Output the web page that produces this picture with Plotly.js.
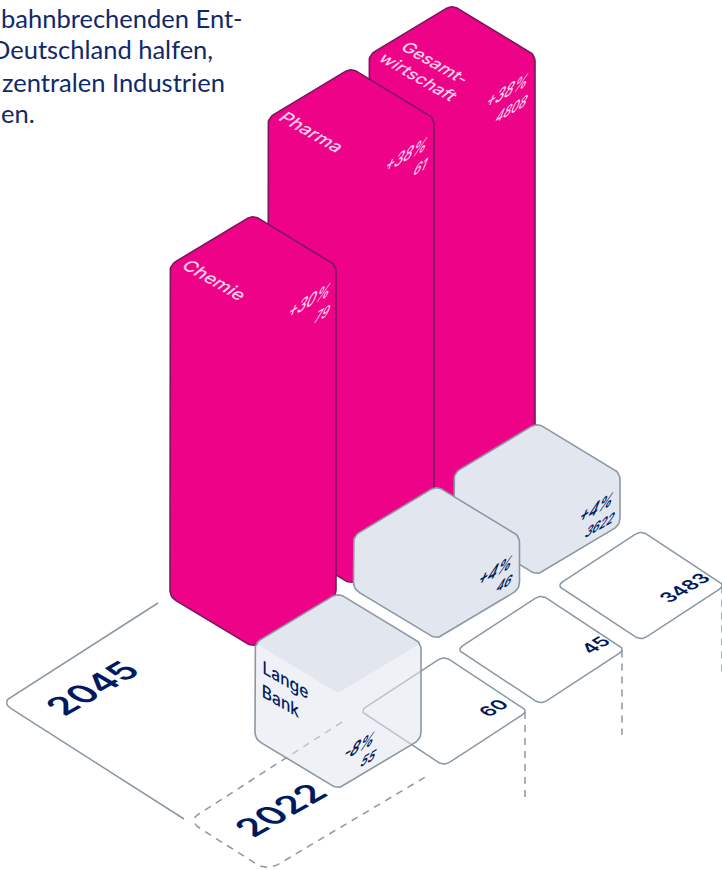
<!DOCTYPE html>
<html><head><meta charset="utf-8">
<script src="https://cdn.plot.ly/plotly-3.0.1.min.js"></script>
<style>html,body{margin:0;padding:0;background:#fff;overflow:hidden}#c{width:722px;height:870px}</style>
</head><body><div id="c"></div>
<script>
// --- data
const categories = ["Chemie","Pharma","Gesamt-<br>wirtschaft"];
const change2045 = ["+30%","+38%","+38%"];
const values2045 = [79,61,4808];
const heights2045 = [332,416,416];
const changeBank = ["-8%","+4%","+4%"];
const valuesBank = [55,46,3622];
const heightsBank = [96,53,52];
const values2022 = [60,45,3483];
const years = ["2045","2022"];
const bankLabel = ["Lange","Bank"];
const introLines = ["bahnbrechenden Ent-","Deutschland halfen,","zentralen Industrien","en."];

// --- layout of the isometric grid
const W = 83, D = 50, TW = 84, TD = 55;
const pinkCx = [253,351,452], pinkBottom = [647,584,521];
const bankCx = [338,436.5,537], bankBottom = [789,639,575];
const tileCx = [444,541,641], tileCy = [711,649.5,585.5], tileDrop = [797,735,672];
const PINK="#ee0288", EDGE="#7a1560", GREY="#8a98a3", TOP="#e1e6ef", NAVY="#001a5e", SOFT="#ffcfe8";

function rounded(pts,r,closed){
  const xs=[],ys=[],n=pts.length;
  for(let i=0;i<n;i++){
    const p=pts[i];
    if(!closed&&(i===0||i===n-1)){xs.push(p[0]);ys.push(p[1]);continue;}
    const a=pts[(i-1+n)%n],b=pts[(i+1)%n];
    const la=Math.hypot(a[0]-p[0],a[1]-p[1]),lb=Math.hypot(b[0]-p[0],b[1]-p[1]);
    const s=[p[0]+(a[0]-p[0])*r/la,p[1]+(a[1]-p[1])*r/la],e=[p[0]+(b[0]-p[0])*r/lb,p[1]+(b[1]-p[1])*r/lb];
    for(let k=0;k<=8;k++){const t=k/8,u=1-t;
      xs.push(u*u*s[0]+2*u*t*p[0]+t*t*e[0]);ys.push(u*u*s[1]+2*u*t*p[1]+t*t*e[1]);}
  }
  if(closed){xs.push(xs[0]);ys.push(ys[0]);}
  return {x:xs,y:ys};
}
const hex=(cx,b,h)=>[[cx,b-2*D-h],[cx+W,b-D-h],[cx+W,b-D],[cx,b],[cx-W,b-D],[cx-W,b-D-h]];
const diamond=(cx,cy,w,d)=>[[cx,cy-d],[cx+w,cy],[cx,cy+d],[cx-w,cy]];
function poly(pts,r,closed,o){return Object.assign({type:"scatter",mode:"lines",hoverinfo:"skip",showlegend:false},rounded(pts,r,closed),o);}
const solid=(fill,col,w)=>({fill:"toself",fillcolor:fill,line:{color:col,width:w}});
const stroke=(col,w,dash)=>({line:{color:col,width:w,dash:dash||"solid"}});

const traces=[];
// 2045 plate
traces.push(poly([[158,603],[1.5,702.5],[184,819]],12,false,stroke(GREY,1.5)));
// pink bars, back to front
[2,1,0].forEach(i=>traces.push(poly(hex(pinkCx[i],pinkBottom[i],heights2045[i]),7,true,solid(PINK,EDGE,1.6))));
// far grey bars
[2,1].forEach(i=>traces.push(poly(hex(bankCx[i],bankBottom[i],heightsBank[i]),7,true,solid(TOP,GREY,1.6))));
// 2022 tiles and drop lines
[2,1,0].forEach(i=>{
  traces.push(poly(diamond(tileCx[i],tileCy[i],TW,TD),7,true,solid("#ffffff",GREY,1.5)));
  const xr=tileCx[i]+TW-3;
  traces.push(poly([[xr,tileCy[i]+1],[xr,tileDrop[i]]],0,false,stroke(GREY,1.5,"7px,6px")));
});
// 2022 dashed plate
traces.push(poly([[342,722],[188,820.7],[267,871],[427,776]],14,false,stroke(GREY,1.5,"7px,6px")));
// near translucent bar
const b0=hex(bankCx[0],bankBottom[0],heightsBank[0]);
traces.push(poly(b0,7,true,{fill:"toself",fillcolor:"rgba(225,230,239,0.55)",line:{width:0,color:"rgba(0,0,0,0)"}}));
traces.push(poly(diamond(bankCx[0],b0[0][1]+D,W,D),4,true,{fill:"toself",fillcolor:TOP,line:{width:0,color:"rgba(0,0,0,0)"}}));
traces.push(poly(b0,7,true,stroke(GREY,1.6)));

// --- isometric text planes
const M={
  top:[.866,.5,-.75,.62],
  right:[.8,-.46,-.45,1.15],
  left:[.866,.5,0,1],
  floor:[.866,-.5,.866,.5],
  none:[1,0,0,1]
};
const ann=[],planes=[];
function label(text,x,y,plane,size,color,weight,extra,fam){
  ann.push(Object.assign({text:String(text),x:x,y:y,xref:"x",yref:"y",showarrow:false,xanchor:"center",yanchor:"middle",
    font:{family:(fam||"Inter")+", sans-serif",size:size,color:color,weight:weight||400},captureevents:false},extra||{}));
  planes.push([plane,x,y]);
}
const catPos=[[215,280],[312,132],[427,70]];
categories.forEach((c,i)=>label(c,catPos[i][0],catPos[i][1],"top",i===2?17.5:18.5,SOFT,500,{align:"center"}));
const pctPos=[[310,300],[407,154],[508,90]], valPos=[[323,313],[421,166],[512,108]];
change2045.forEach((c,i)=>label(c,pctPos[i][0],pctPos[i][1],"right",18,SOFT,500));
values2045.forEach((v,i)=>label(v,valPos[i][0],valPos[i][1],"right",15,SOFT,500));
const bPct=[[360,745],[496,570],[597,507]], bVal=[[369,757],[505,582],[600,524]];
changeBank.forEach((c,i)=>label(c,bPct[i][0],bPct[i][1],"right",18,NAVY,600));
valuesBank.forEach((v,i)=>label(v,bVal[i][0],bVal[i][1],"right",14,NAVY,600));
const tPos=[[493,708],[595,645],[684,588]];
values2022.forEach((v,i)=>label(v,tPos[i][0],tPos[i][1],"floor",19,NAVY,600));
label(bankLabel[0],285,679,"left",18,NAVY,500);
label(bankLabel[1],280,700,"left",18,NAVY,500);
label(years[0],92,688,"floor",35,NAVY,600);
label(years[1],280,810,"floor",35,NAVY,600);
const introEnd=[245,215,227,0], introY=[18,49,82,113];
introLines.forEach((t,i)=>{
  const last=i===introLines.length-1;
  ann.push({text:t,x:introEnd[i],y:introY[i],xref:"x",yref:"y",showarrow:false,xanchor:last?"left":"right",yanchor:"middle",xshift:last?-1:0,
    font:{family:"Lato, sans-serif",size:25.5,color:"#10296b"},captureevents:false});
  planes.push(["none",0,0]);
});

const layout={width:722,height:870,margin:{l:0,r:0,t:0,b:0},paper_bgcolor:"#fff",plot_bgcolor:"#fff",showlegend:false,
  xaxis:{range:[0,722],visible:false,fixedrange:true},yaxis:{range:[870,0],visible:false,fixedrange:true},annotations:ann};
Plotly.newPlot("c",traces,layout,{staticPlot:true,displayModeBar:false}).then(gd=>{
  gd.querySelectorAll("g.annotation").forEach(g=>{
    const i=+g.getAttribute("data-index"),p=planes[i];
    if(!p||p[0]==="none")return;
    const m=M[p[0]],t=g.querySelector(".annotation-text-g");
    t.setAttribute("transform",`translate(${p[1]} ${p[2]}) matrix(${m.join(" ")} 0 0) translate(${-p[1]} ${-p[2]})`);
  });
});
</script></body></html>
